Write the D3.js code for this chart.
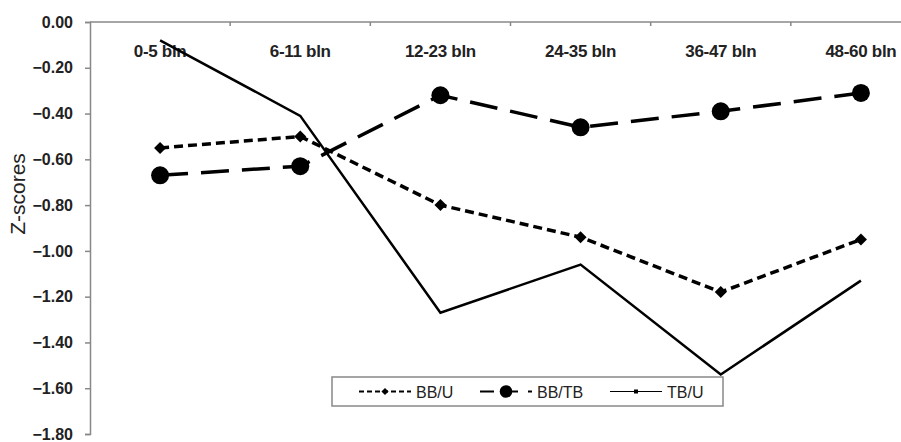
<!DOCTYPE html>
<html>
<head>
<meta charset="utf-8">
<script src="https://cdn.jsdelivr.net/npm/d3@7"></script>
<style>
body { margin: 0; background: #fff; }
text { font-family: "Liberation Sans", Arial, sans-serif; }
</style>
</head>
<body>
<div id="chart"></div>
<script>
const categories = ["0-5 bln", "6-11 bln", "12-23 bln", "24-35 bln", "36-47 bln", "48-60 bln"]
const bbU = [-0.55, -0.50, -0.80, -0.94, -1.18, -0.95]
const bbTB = [-0.67, -0.63, -0.32, -0.46, -0.39, -0.31]
const tbU = [-0.08, -0.41, -1.27, -1.06, -1.54, -1.13]
const yTicks = [0, -0.2, -0.4, -0.6, -0.8, -1.0, -1.2, -1.4, -1.6, -1.8]

const W = 901, H = 442
let svg = d3.select("#chart").append("svg").attr("width", W).attr("height", H)

// x band runs past the right edge, as in the cropped original
let x = d3.scaleBand().domain(categories).range([90, 931])
let y = d3.scaleLinear().domain([0, -1.8]).range([22, 434])

// axes
let yAxis = svg.append("g").attr("transform", "translate(90,0)")
    .call(d3.axisLeft(y).tickValues(yTicks).tickSize(5).tickFormat(d => d3.format(".2f")(d)))
yAxis.select(".domain").attr("stroke", "#888").attr("stroke-width", 1.5)
yAxis.selectAll(".tick line").attr("stroke", "#888").attr("stroke-width", 1.5)
yAxis.selectAll(".tick text").attr("x", -17).attr("font-size", 16).attr("font-weight", "bold").attr("fill", "#222")

svg.append("line").attr("x1", 90).attr("x2", W).attr("y1", y(0)).attr("y2", y(0))
    .attr("stroke", "#888").attr("stroke-width", 1.5)
categories.slice(1).forEach(c => {
    svg.append("line").attr("x1", x(c)).attr("x2", x(c)).attr("y1", y(0)).attr("y2", y(0) + 4)
        .attr("stroke", "#888").attr("stroke-width", 1.5)
})
categories.forEach(c => {
    svg.append("text").attr("x", x(c) + x.bandwidth() / 2).attr("y", 57)
        .attr("text-anchor", "middle").attr("font-size", 17).attr("font-weight", "bold")
        .attr("fill", "#222").attr("letter-spacing", -0.3).text(c)
})

svg.append("text").attr("transform", "translate(25,194) rotate(-90)")
    .attr("text-anchor", "middle").attr("font-size", 21).attr("fill", "#222").text("Z-scores")

const cx = (d, i) => x(categories[i]) + x.bandwidth() / 2
const line = d3.line().x(cx).y(d => y(d))

const series = [
    { name: "BB/U", data: bbU, dash: "9,5", width: 3.5, marker: "diamond" },
    { name: "BB/TB", data: bbTB, dash: "28,13", width: 3.5, marker: "circle" },
    { name: "TB/U", data: tbU, dash: null, width: 2.5, marker: "none" }
]

function drawMarker(g, type, px, py, scale) {
    if (type === "diamond") {
        let s = 6 * scale
        g.append("path").attr("d", `M${px},${py - s}L${px + s},${py}L${px},${py + s}L${px - s},${py}Z`).attr("fill", "#000")
    } else if (type === "circle") {
        g.append("circle").attr("cx", px).attr("cy", py).attr("r", 9 * scale).attr("fill", "#000")
    } else if (type === "small") {
        g.append("rect").attr("x", px - 2).attr("y", py - 2).attr("width", 4).attr("height", 4).attr("fill", "#000")
    }
}

let plot = svg.append("g")
series.forEach(s => {
    plot.append("path").attr("d", line(s.data)).attr("fill", "none").attr("stroke", "#000")
        .attr("stroke-width", s.width).attr("stroke-dasharray", s.dash)
    s.data.forEach((d, i) => drawMarker(plot, s.marker, cx(d, i), y(d), 1))
})

// legend
let lg = svg.append("g")
lg.append("rect").attr("x", 332).attr("y", 377).attr("width", 391).attr("height", 29)
    .attr("fill", "#fff").attr("stroke", "#888").attr("stroke-width", 1.5)
const legendX = [359, 480, 610]
series.forEach((s, i) => {
    let lx = legendX[i], ly = 391.5
    lg.append("line").attr("x1", lx).attr("x2", lx + 52).attr("y1", ly).attr("y2", ly)
        .attr("stroke", "#000").attr("stroke-width", s.width - 1.5)
        .attr("stroke-dasharray", s.dash ? (i === 0 ? "5,3" : "14,10") : null)
    drawMarker(lg, s.marker === "none" ? "small" : s.marker, lx + 26, ly, s.marker === "circle" ? 0.7 : 0.6)
    lg.append("text").attr("x", lx + 57).attr("y", ly + 6).attr("font-size", 16).attr("fill", "#222").text(s.name)
})
</script>
</body>
</html>
